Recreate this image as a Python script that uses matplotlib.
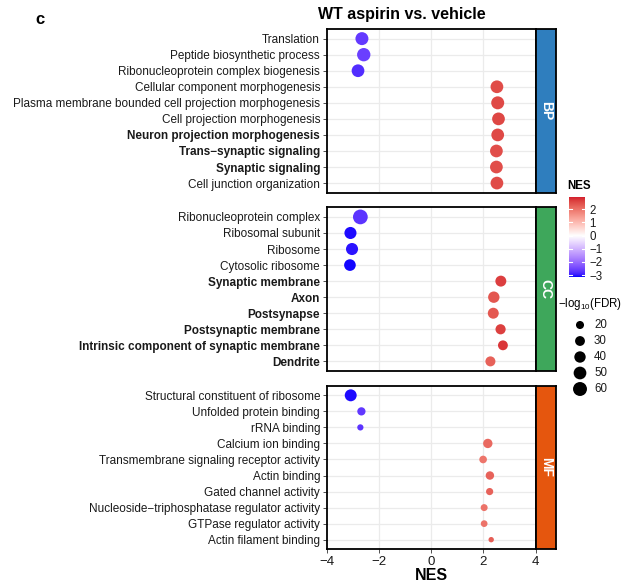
import matplotlib
matplotlib.use("Agg")
import matplotlib.pyplot as plt
import numpy as np
from matplotlib.colors import ListedColormap, TwoSlopeNorm, to_rgb

plt.rcParams['font.family'] = ['Liberation Sans', 'DejaVu Sans']
plt.rcParams['mathtext.fontset'] = 'custom'
plt.rcParams['mathtext.rm'] = 'Liberation Sans'
plt.rcParams['mathtext.it'] = 'Liberation Sans:italic'
plt.rcParams['mathtext.bf'] = 'Liberation Sans:bold'

# ---------------- data ----------------
bp_terms = ["Translation", "Peptide biosynthetic process", "Ribonucleoprotein complex biogenesis",
            "Cellular component morphogenesis", "Plasma membrane bounded cell projection morphogenesis",
            "Cell projection morphogenesis", "Neuron projection morphogenesis",
            "Trans\u2212synaptic signaling", "Synaptic signaling", "Cell junction organization"]
bp_nes = [-2.66, -2.59, -2.81, 2.52, 2.55, 2.58, 2.55, 2.50, 2.50, 2.52]
bp_fdr = [52, 55, 50, 50, 52, 50, 50, 50, 50, 50]
bp_bold = [False, False, False, False, False, False, True, True, True, False]

cc_terms = ["Ribonucleoprotein complex", "Ribosomal subunit", "Ribosome", "Cytosolic ribosome",
            "Synaptic membrane", "Axon", "Postsynapse", "Postsynaptic membrane",
            "Intrinsic component of synaptic membrane", "Dendrite"]
cc_nes = [-2.72, -3.10, -3.04, -3.12, 2.67, 2.40, 2.38, 2.66, 2.75, 2.27]
cc_fdr = [67, 45, 45, 42, 37, 40, 37, 32, 30, 31]
cc_bold = [False, False, False, False, True, True, True, True, True, True]

mf_terms = ["Structural constituent of ribosome", "Unfolded protein binding", "rRNA binding",
            "Calcium ion binding", "Transmembrane signaling receptor activity", "Actin binding",
            "Gated channel activity", "Nucleoside\u2212triphosphatase regulator activity",
            "GTPase regulator activity", "Actin filament binding"]
mf_nes = [-3.09, -2.68, -2.72, 2.17, 1.99, 2.25, 2.24, 2.03, 2.03, 2.30]
mf_fdr = [44, 21, 12, 27, 18, 22, 16, 15, 14, 9]
mf_bold = [False] * 10

strip_labels = ["BP", "CC", "MF"]
strip_colors = ["#2F7EBE", "#3EA75B", "#E5560E"]

size_breaks = [20, 30, 40, 50, 60]
cbar_ticks = [2, 1, 0, -1, -2, -3]
x_ticks = [-4, -2, 0, 2, 4]

nes_min, nes_max = -3.15, 2.94
low_col, mid_col, high_col = "#0000FF", "#FFFFFF", "#D41F2E"

# ---------------- colour scale (CIELAB interpolation, like ggplot) ----------------
def _srgb_to_lab(rgb):
    rgb = np.asarray(rgb, float)
    lin = np.where(rgb <= 0.04045, rgb / 12.92, ((rgb + 0.055) / 1.055) ** 2.4)
    M = np.array([[0.4124564, 0.3575761, 0.1804375],
                  [0.2126729, 0.7151522, 0.0721750],
                  [0.0193339, 0.1191920, 0.9503041]])
    xyz = M @ lin
    white = np.array([0.95047, 1.0, 1.08883])
    t = xyz / white
    f = np.where(t > (6 / 29) ** 3, np.cbrt(t), t / (3 * (6 / 29) ** 2) + 4 / 29)
    return np.array([116 * f[1] - 16, 500 * (f[0] - f[1]), 200 * (f[1] - f[2])])

def _lab_to_srgb(lab):
    L, a, b = lab
    fy_ = (L + 16) / 116
    fx_ = fy_ + a / 500
    fz_ = fy_ - b / 200
    f = np.array([fx_, fy_, fz_])
    d = 6 / 29
    t = np.where(f > d, f ** 3, 3 * d * d * (f - 4 / 29))
    white = np.array([0.95047, 1.0, 1.08883])
    xyz = t * white
    Minv = np.array([[3.2404542, -1.5371385, -0.4985314],
                     [-0.9692660, 1.8760108, 0.0415560],
                     [0.0556434, -0.2040259, 1.0572252]])
    lin = Minv @ xyz
    lin = np.clip(lin, 0, 1)
    rgb = np.where(lin <= 0.0031308, 12.92 * lin, 1.055 * lin ** (1 / 2.4) - 0.055)
    return np.clip(rgb, 0, 1)

labs = [_srgb_to_lab(to_rgb(c)) for c in (low_col, mid_col, high_col)]
cols = []
for u in np.linspace(0, 1, 512):
    if u <= 0.5:
        w = u / 0.5
        lab = labs[0] * (1 - w) + labs[1] * w
    else:
        w = (u - 0.5) / 0.5
        lab = labs[1] * (1 - w) + labs[2] * w
    cols.append(_lab_to_srgb(lab))
cmap = ListedColormap(cols)
norm = TwoSlopeNorm(vmin=nes_min, vcenter=0, vmax=nes_max)

def size_of(v):
    return 1.68 * np.asarray(v, dtype=float)

W, H = 631, 583
fig = plt.figure(figsize=(W / 100, H / 100), dpi=100)

def fx(px):
    return px / W

def fy(px):
    return 1 - px / H

left_px, right_px = 327, 535.5
panels_px = [(29, 192.7), (207.3, 371), (385.7, 549.3)]
strip_w = 20.5

data = [(bp_terms, bp_nes, bp_fdr, bp_bold), (cc_terms, cc_nes, cc_fdr, cc_bold),
        (mf_terms, mf_nes, mf_fdr, mf_bold)]

for i, ((terms, nes, fdr, bold), (t, b)) in enumerate(zip(data, panels_px)):
    ax = fig.add_axes([fx(left_px), fy(b), fx(right_px - left_px), (b - t) / H])
    y = np.arange(len(terms))
    ax.set_xlim(-4, 4)
    ax.set_ylim(len(terms) - 0.4, -0.6)
    for yy in y:
        ax.axhline(yy, color="#EBEBEB", lw=0.9, zorder=0)
    for xx in [-2, 0, 2]:
        ax.axvline(xx, color="#EBEBEB", lw=0.9, zorder=0)
    ax.scatter(nes, y, s=size_of(fdr), c=nes, cmap=cmap, norm=norm, linewidths=0, zorder=3)
    ax.set_yticks(y)
    ax.set_yticklabels(terms, fontsize=8.5, color="#1a1a1a")
    for lab, bb in zip(ax.get_yticklabels(), bold):
        if bb:
            lab.set_fontweight("bold")
    ax.tick_params(axis="y", length=3, width=0.6, color="#333333", pad=2)
    for sp in ax.spines.values():
        sp.set_linewidth(1.3)
        sp.set_color("black")
    if i < 2:
        ax.set_xticks([])
    else:
        ax.set_xticks(x_ticks)
        ax.set_xticklabels(["\u22124", "\u22122", "0", "2", "4"], fontsize=9.5, color="#1a1a1a")
        ax.tick_params(axis="x", length=3, width=0.6, color="#333333", pad=1.5)
        ax.set_xlabel("NES", fontsize=11.5, fontweight="bold", labelpad=0)

    # strip
    sax = fig.add_axes([fx(right_px), fy(b), fx(strip_w), (b - t) / H])
    sax.set_facecolor(strip_colors[i])
    sax.set_xticks([])
    sax.set_yticks([])
    for sp in sax.spines.values():
        sp.set_linewidth(1.3)
        sp.set_color("black")
    sax.text(0.5, 0.5, strip_labels[i], rotation=-90, ha="center", va="center",
             color="white", fontsize=10, fontweight="bold", transform=sax.transAxes)

# title and panel tag
fig.text(fx(402), fy(14), "WT aspirin vs. vehicle", ha="center", va="center",
         fontsize=11.5, fontweight="bold")
fig.text(fx(35), fy(20), "c", ha="left", va="center", fontsize=12, fontweight="bold")

# colour legend
fig.text(fx(567), fy(186), "NES", ha="left", va="center", fontsize=8.3, fontweight="bold")
cax = fig.add_axes([fx(569), fy(277), fx(16), 80 / H])
grad = np.linspace(nes_min, nes_max, 300).reshape(-1, 1)
cax.imshow(grad, aspect="auto", cmap=cmap, norm=norm, origin="lower",
           extent=[0, 1, nes_min, nes_max])
cax.set_xlim(0, 1)
cax.set_ylim(nes_min, nes_max)
cax.set_xticks([])
cax.yaxis.tick_right()
cax.set_yticks(cbar_ticks)
cax.set_yticklabels(["2", "1", "0", "\u22121", "\u22122", "\u22123"], fontsize=8.3, color="#1a1a1a")
cax.tick_params(axis="y", length=0, pad=3)
for tv in cbar_ticks:
    cax.plot([0, 0.2], [tv, tv], color="white", lw=0.8)
    cax.plot([0.8, 1], [tv, tv], color="white", lw=0.8)
for sp in cax.spines.values():
    sp.set_visible(False)

# size legend
fig.text(fx(558), fy(304), "\u2212log$_{10}$(FDR)", ha="left", va="center", fontsize=8.3)
lax = fig.add_axes([fx(570), fy(397), fx(50), 80 / H])
ly = np.arange(len(size_breaks))
lax.scatter(np.zeros(len(size_breaks)), ly, s=size_of(size_breaks), color="black", linewidths=0)
for yy, v in zip(ly, size_breaks):
    lax.text(1.4, yy, str(v), ha="left", va="center", fontsize=8.3, color="#1a1a1a")
lax.set_xlim(-1, 4)
lax.set_ylim(len(size_breaks) - 0.5, -0.5)
lax.axis("off")

fig.savefig("out.png", dpi=100)
